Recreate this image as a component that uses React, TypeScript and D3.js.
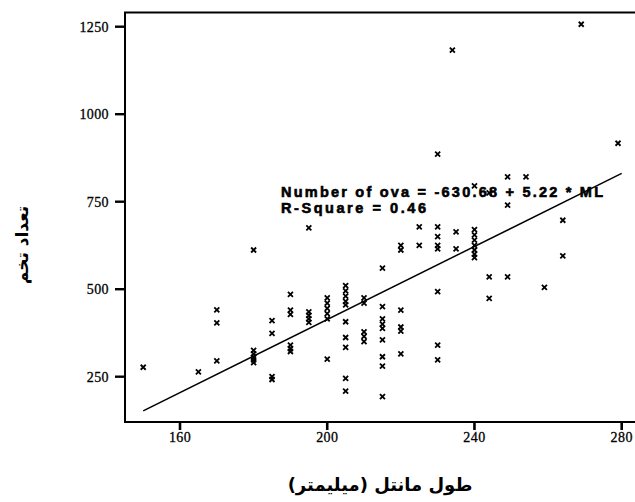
import React from "react";
import * as d3 from "d3";

const lengthX: number[] = [
  150, 165, 170, 170, 170,
  180, 180, 180, 180, 180, 180,
  185, 185, 185, 185,
  190, 190, 190, 190, 190, 190,
  195, 195, 195, 195, 195,
  200, 200, 200, 200, 200, 200,
  205, 205, 205, 205, 205, 205, 205, 205, 205, 205,
  210, 210, 210, 210, 210,
  215, 215, 215, 215, 215, 215, 215, 215, 215,
  220, 220, 220, 220, 220, 220,
  225, 225,
  230, 230, 230, 230, 230, 230, 230, 230,
  234, 235, 235,
  240, 240, 240, 240, 240, 240, 240, 240,
  244, 244, 244,
  249, 249, 249,
  254, 259, 264, 264, 269, 279,
];

const ovaY: number[] = [
  277, 264, 441, 404, 295,
  612, 325, 315, 305, 298, 290,
  410, 374, 250, 242,
  485, 440, 428, 340, 330, 322,
  675, 435, 425, 415, 405,
  475, 460, 445, 430, 415, 300,
  510, 495, 480, 465, 455, 407, 362, 334, 245, 209,
  475, 460, 378, 365, 350,
  560, 450, 415, 400, 388, 355, 307, 280, 193,
  625, 612, 440, 392, 380, 315,
  678, 625,
  886, 678, 650, 615, 493, 340, 298, 625,
  1183, 664, 615,
  795, 670, 655, 640, 625, 612, 600, 590,
  775, 535, 474,
  821, 740, 535,
  821, 505, 697, 595, 1257, 917,
];

const xTicks: number[] = [160, 200, 240, 280];
const yTicks: number[] = [250, 500, 750, 1000, 1250];
const fitIntercept = -630.68;
const fitSlope = 5.22;
const fitRange: number[] = [150, 280];
const equationText = "Number of ova = -630.68 + 5.22 * ML";
const rSquareText = "R-Square = 0.46";
const xTitle = "طول مانتل (میلیمتر)";
const yTitle = "تعداد تخم";

export default function App() {
  const x = d3.scaleLinear().domain([160, 280]).range([180, 621.7]);
  const y = d3.scaleLinear().domain([250, 1250]).range([376.7, 26.7]);
  const left = 125;
  const top = 12.5;
  const bottom = 422;
  const right = 640;

  const line = d3
    .line<number>()
    .x((d) => x(d))
    .y((d) => y(fitIntercept + fitSlope * d));

  const pts = lengthX.map((v, i) => [x(v), y(ovaY[i])]);
  const s = 2.5;

  return (
    <div style={{ position: "absolute", left: 0, top: 0 }}>
      <svg width={635} height={502} style={{ display: "block", background: "#fff" }}>
        <rect x={0} y={0} width={635} height={502} fill="#fff" />
        <rect
          x={left}
          y={top}
          width={right - left}
          height={bottom - top}
          fill="none"
          stroke="#000"
          strokeWidth={2}
        />
        {yTicks.map((t) => (
          <g key={"y" + t}>
            <line x1={115} x2={left} y1={y(t)} y2={y(t)} stroke="#000" strokeWidth={2.4} />
            <text
              x={109}
              y={y(t) + 5}
              textAnchor="end"
              fontFamily="'Liberation Serif', 'DejaVu Serif', serif"
              fontSize={14}
              letterSpacing={0.4}
              stroke="#000"
              strokeWidth={0.3}
              fill="#000"
            >
              {t}
            </text>
          </g>
        ))}
        {xTicks.map((t) => (
          <g key={"x" + t}>
            <line x1={x(t)} x2={x(t)} y1={bottom} y2={430} stroke="#000" strokeWidth={2.6} />
            <text
              x={x(t)}
              y={442}
              textAnchor="middle"
              fontFamily="'Liberation Serif', 'DejaVu Serif', serif"
              fontSize={14}
              letterSpacing={0.4}
              stroke="#000"
              strokeWidth={0.3}
              fill="#000"
            >
              {t}
            </text>
          </g>
        ))}
        <path d={line(fitRange) || ""} fill="none" stroke="#000" strokeWidth={1.5} />
        {pts.map(([px, py], i) => (
          <path
            key={i}
            d={`M${px - s},${py - s}L${px + s},${py + s}M${px + s},${py - s}L${px - s},${py + s}`}
            stroke="#000"
            strokeWidth={1.8}
            fill="none"
          />
        ))}
        <text
          x={281}
          y={197}
          fontFamily="'Liberation Sans', Arial, sans-serif"
          fontWeight="bold"
          fontSize={14.5}
          textLength={322}
          lengthAdjust="spacing"
          stroke="#000"
          strokeWidth={0.6}
          fill="#000"
        >
          {equationText}
        </text>
        <text
          x={281}
          y={213}
          fontFamily="'Liberation Sans', Arial, sans-serif"
          fontWeight="bold"
          fontSize={14.5}
          textLength={145}
          lengthAdjust="spacing"
          stroke="#000"
          strokeWidth={0.6}
          fill="#000"
        >
          {rSquareText}
        </text>
        <text
          x={380}
          y={491}
          textAnchor="middle"
          direction="rtl"
          fontFamily="'DejaVu Sans', sans-serif"
          fontWeight="bold"
          fontSize={18}
          fill="#000"
        >
          {xTitle}
        </text>
        <text
          transform="translate(28,245) rotate(-90)"
          textAnchor="middle"
          direction="rtl"
          fontFamily="'DejaVu Sans', sans-serif"
          fontWeight="bold"
          fontSize={17}
          fill="#000"
        >
          {yTitle}
        </text>
      </svg>
    </div>
  );
}
